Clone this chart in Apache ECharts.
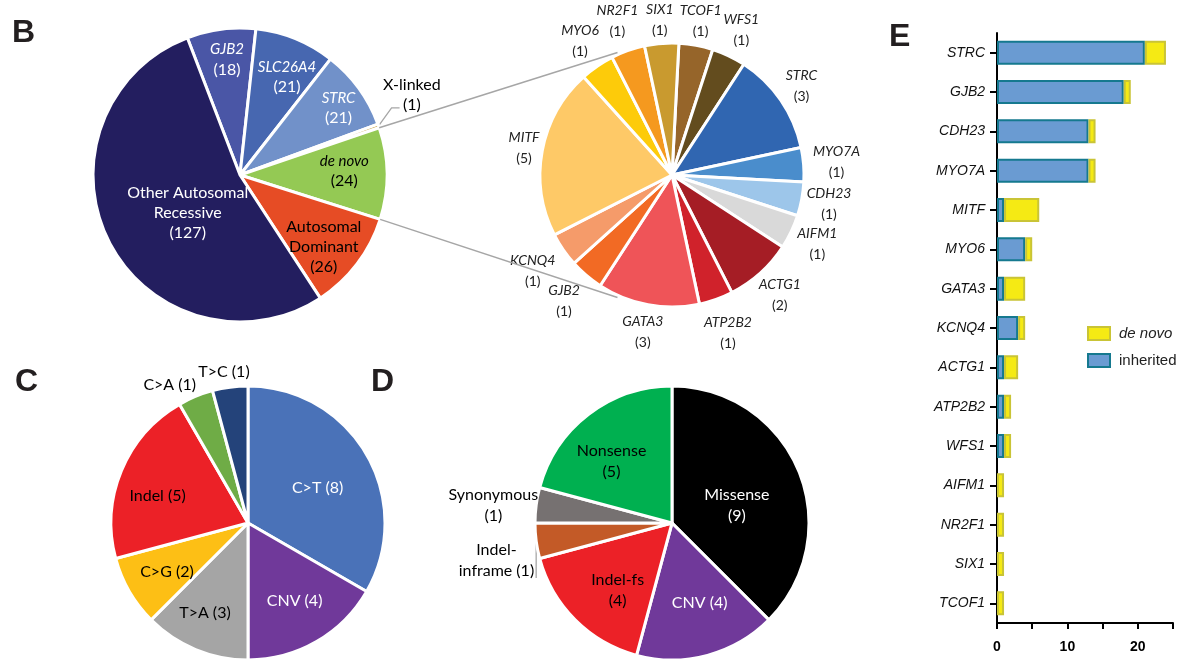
<!DOCTYPE html>
<html><head><meta charset="utf-8">
<script src="https://cdn.jsdelivr.net/npm/echarts@6/dist/echarts.min.js"></script>
<style>html,body{margin:0;padding:0;background:#fff}#c{width:1181px;height:663px}</style>
</head><body><div id="c"></div>
<script>
// ---------- DATA ----------
// Panel B (inheritance)
const bNames = ['GJB2','SLC26A4','STRC','X-linked','de novo','Autosomal Dominant','Other Autosomal Recessive'];
const bValues = [18,21,21,1,24,26,127];
// De novo genes pie
const dnNames = ['TCOF1','WFS1','STRC','MYO7A','CDH23','AIFM1','ACTG1','ATP2B2','GATA3','GJB2','KCNQ4','MITF','MYO6','NR2F1','SIX1'];
const dnValues = [1,1,3,1,1,1,2,1,3,1,1,5,1,1,1];
// Panel C (variant class)
const cNames = ['C>T','CNV','T>A','C>G','Indel','C>A','T>C'];
const cValues = [8,4,3,2,5,1,1];
// Panel D (consequence)
const dNames = ['Missense','CNV','Indel-fs','Indel-inframe','Synonymous','Nonsense'];
const dValues = [9,4,4,1,1,5];
// Panel E (bar)
const eGenes = ['STRC','GJB2','CDH23','MYO7A','MITF','MYO6','GATA3','KCNQ4','ACTG1','ATP2B2','WFS1','AIFM1','NR2F1','SIX1','TCOF1'];
const eInherited = [21,18,13,13,1,4,1,3,1,1,1,0,0,0,0];
const eDeNovo = [3,1,1,1,5,1,3,1,2,1,1,1,1,1,1];
const xTickLabels = [0,10,20];

// ---------- STYLE ----------
const FONT = 'Lato, "Noto Sans", sans-serif';
const ARIAL = '"Liberation Sans", Arial, sans-serif';

const B = {center:[240,175], r:147, start:111,
  colors:['#4a56a6','#4767b0','#7191c9','#c9a449','#94c954','#e64c25','#231e5f'],
  labelColors:['#fff','#fff','#fff','#000','#000','#000','#fff'],
  lines:[['GJB2'],['SLC26A4'],['STRC'],['X-linked'],['de novo'],['Autosomal','Dominant'],['Other Autosomal','Recessive']],
  italic:[1,1,1,0,1,0,0],
  factors:[0.79,0.74,0.81,1.29,0.71,0.75,0.44],
  angOff:[1,3.5,2,-5.5,-1.5,3.3,-9],
  leaders:[null,null,null,[[13,-18],[21,-18]],null,null,null]
};
const DN = {center:[672,175], r:132, start:87,
  colors:['#96652a','#634c1e','#3066b1','#4a8dcc','#9dc6ea','#d9d9d9','#a51d25','#d0222b','#ef5458','#f26a24','#f59b6a','#fec967','#fdcb0a','#f5991f','#c99a2f'],
  factors:[1.19,1.22,1.19,1.25,1.21,1.22,1.22,1.27,1.21,1.26,1.28,1.14,1.23,1.24,1.18]
};
const C = {center:[248,523], r:137, start:90,
  colors:['#4a72b8','#70399a','#a5a5a5','#fdbf15','#ec2127','#6fac46','#24437a'],
  labelColors:['#fff','#fff','#000','#000','#000','#000','#000'],
  factors:[0.57,0.66,0.73,0.69,0.69,1.16,1.12],
  angOff:[3,-1,3,-1,-5.5,-7,-1.5]
};
const D = {center:[672,523], r:137, start:90,
  colors:['#000000','#70399a','#ec2127','#c35a27','#767171','#00b050'],
  labelColors:['#fff','#fff','#000','#000','#000','#000'],
  prefix:['Missense\n','CNV ','Indel-fs\n','Indel-\ninframe ','Synonymous\n','Nonsense\n'],
  factors:[0.49,0.62,0.63,1.31,1.31,0.63],
  angOff:[7.5,-4,-6,-4.5,-2,-7],
  leaders:[null,null,null,[[0,18],[0,37]],null,null]
};

// ---------- HELPERS ----------
function total(v){return v.reduce((a,b)=>a+b,0);}
function midAngles(values,start){const t=total(values);let acc=0;return values.map(v=>{const m=(90-start)+(acc+v/2)/t*360;acc+=v;return m;});}
function edgeAngles(values,start){const t=total(values);let acc=0;const out=[90-start];values.forEach(v=>{acc+=v;out.push((90-start)+acc/t*360);});return out;}
function pt(c,r,deg){const a=deg*Math.PI/180;return [c[0]+r*Math.sin(a), c[1]-r*Math.cos(a)];}
function layoutFn(values,cfg){
  const m=midAngles(values,cfg.start);
  return function(p){
    const i=p.dataIndex;
    const pos=pt(cfg.center,cfg.r*cfg.factors[i],m[i]+((cfg.angOff&&cfg.angOff[i])||0));
    const out={x:pos[0],y:pos[1],align:'center',verticalAlign:'middle'};
    if(cfg.leaders&&cfg.leaders[i]){
      const p0=pt(cfg.center,cfg.r,m[i]);
      const L=cfg.leaders[i];
      out.labelLinePoints=[p0,[p0[0]+L[0][0],p0[1]+L[0][1]],[p0[0]+L[1][0],p0[1]+L[1][1]]];
    }
    return out;
  };
}
function pieSeries(names,values,cfg,texts,labelColors,fs,lh,rich){
  return {
    type:'pie', center:cfg.center, radius:cfg.r, startAngle:cfg.start, clockwise:true,
    avoidLabelOverlap:false, silent:true, animation:false, emphasis:{disabled:true},
    itemStyle:{borderColor:'#fff', borderWidth:3},
    label:{show:true, position:'inside', fontFamily:FONT, fontSize:fs, lineHeight:lh, overflow:'none', rich:rich||{}},
    labelLine:{show:false},
    labelLayout:layoutFn(values,cfg),
    data:names.map((n,i)=>{
      const hasLeader=!!(cfg.leaders&&cfg.leaders[i]);
      return {name:n, value:values[i], itemStyle:{color:cfg.colors[i]},
        label:{color:labelColors[i], formatter:texts[i], position:hasLeader?'outside':'inside'},
        labelLine:{show:hasLeader, lineStyle:{color:'#a6a6a6', width:1.3}}};
    })
  };
}

// ---------- LABEL TEXTS ----------
const bTexts = bNames.map((n,i)=>B.lines[i].map(l=>'{'+(B.italic[i]?'i':'n')+'|'+l+'}').join('\n')+'\n{n|('+bValues[i]+')}');
const dnTexts = dnNames.map((n,i)=>'{i|'+n+'}\n{n|('+dnValues[i]+')}');
const cTexts = cNames.map((n,i)=>n+' ('+cValues[i]+')');
const dTexts = dNames.map((n,i)=>D.prefix[i]+'('+dValues[i]+')');

const richB = {i:{fontStyle:'italic',fontFamily:FONT,fontSize:15,lineHeight:20}, n:{fontFamily:FONT,fontSize:16,lineHeight:20}};
const richDN = {i:{fontStyle:'italic',fontFamily:FONT,fontSize:14,lineHeight:21}, n:{fontFamily:FONT,fontSize:14,lineHeight:21}};

// connector lines from the de novo slice to the de novo pie
const bEdges = edgeAngles(bValues,B.start);
const dnIdx = bNames.indexOf('de novo');
const connectorEnd = [336,204];
const c1a = pt(B.center,B.r,bEdges[dnIdx]), c1b = pt(DN.center,DN.r+2,connectorEnd[0]);
const c2a = pt(B.center,B.r,bEdges[dnIdx+1]), c2b = pt(DN.center,DN.r+2,connectorEnd[1]);

function letter(t,x,y){return {type:'text', left:x, top:y, style:{text:t, font:'bold 32px '+ARIAL, fill:'#231f20'}};}

const option = {
  animation:false,
  backgroundColor:'#fff',
  grid:{left:997, top:33, width:176, height:590, containLabel:false},
  xAxis:{type:'value', min:0, max:25, interval:5,
    axisLine:{show:true, lineStyle:{color:'#000', width:2}},
    axisTick:{show:true, length:6, lineStyle:{color:'#000', width:2}},
    axisLabel:{formatter:v=>xTickLabels.includes(v)?String(v):'', fontWeight:'bold', fontSize:14, color:'#000', margin:17, fontFamily:ARIAL},
    splitLine:{show:false}},
  yAxis:{type:'category', inverse:true, data:eGenes,
    axisLine:{show:true, lineStyle:{color:'#000', width:2}},
    axisTick:{show:true, alignWithLabel:true, length:7, lineStyle:{color:'#000', width:2}},
    axisLabel:{fontStyle:'italic', fontSize:14, color:'#111', margin:12, fontFamily:ARIAL}},
  legend:{orient:'vertical', left:1082, top:321, itemWidth:22, itemHeight:13, itemGap:12, icon:'rect', selectedMode:false,
    data:[{name:'de novo', textStyle:{fontStyle:'italic'}}, {name:'inherited'}],
    textStyle:{fontSize:15, fontFamily:ARIAL, color:'#222', padding:[0,0,0,4]}},
  graphic:[
    {type:'line', shape:{x1:c1a[0],y1:c1a[1],x2:c1b[0],y2:c1b[1]}, style:{stroke:'#a6a6a6', lineWidth:1.5}, z:10},
    {type:'line', shape:{x1:c2a[0],y1:c2a[1],x2:c2b[0],y2:c2b[1]}, style:{stroke:'#a6a6a6', lineWidth:1.5}, z:10},
    letter('B',12,17), letter('C',15,366), letter('D',371,366), letter('E',889,21)
  ],
  series:[
    pieSeries(bNames,bValues,B,bTexts,B.labelColors,15,20,richB),
    pieSeries(dnNames,dnValues,DN,dnTexts,dnNames.map(()=>'#222'),14,21,richDN),
    pieSeries(cNames,cValues,C,cTexts,C.labelColors,16,21),
    pieSeries(dNames,dValues,D,dTexts,D.labelColors,16,21),
    {type:'bar', name:'inherited', stack:'g', barWidth:24, silent:true,
      data:eInherited.map(v=>v===0?'-':v),
      itemStyle:{color:'#6a9bd2', borderColor:'#15798f', borderWidth:2}},
    {type:'bar', name:'de novo', stack:'g', barWidth:24, silent:true,
      data:eDeNovo,
      itemStyle:{color:'#f5ea14', borderColor:'#c9c436', borderWidth:2}}
  ]
};
const chart = echarts.init(document.getElementById('c'));
chart.setOption(option);
</script></body></html>
